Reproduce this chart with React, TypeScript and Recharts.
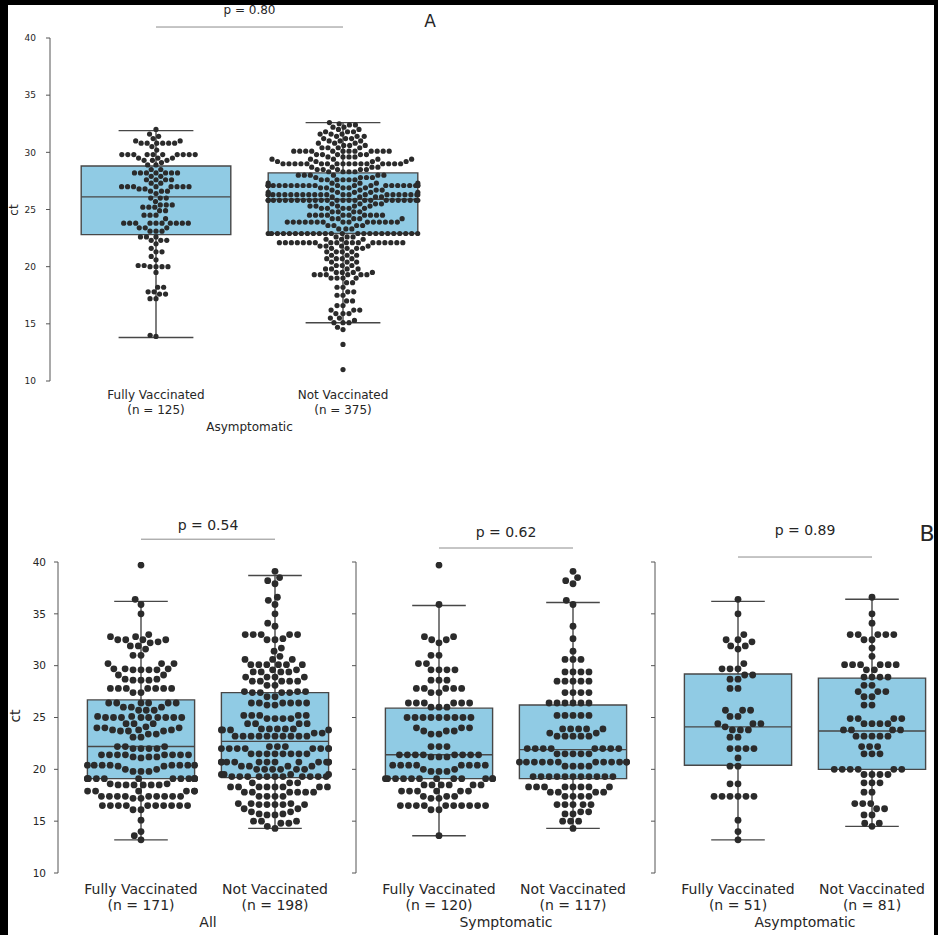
import React from 'react'
import { ScatterChart, Scatter, XAxis, YAxis, ReferenceArea, ReferenceLine } from 'recharts'

type Row = [number, number] // [ct value, number of samples at that value]

const categories = ['Fully Vaccinated', 'Not Vaccinated']
const yTicks = [10, 15, 20, 25, 30, 35, 40]

// Panel A - asymptomatic cohort
const aFullyRows: Row[] = [
  [32.0, 1], [31.6, 1], [31.4, 1], [31.2, 1], [31.0, 2], [30.8, 6], [30.5, 1], [30.2, 1],
  [29.8, 10], [29.5, 3], [29.3, 3], [29.1, 1], [28.9, 2],
  [28.5, 2], [28.2, 7], [27.9, 2], [27.6, 4], [27.3, 2], [27.0, 8], [26.8, 2], [26.6, 3], [26.4, 1],
  [26.0, 3], [25.7, 1], [25.4, 3], [25.2, 3], [24.9, 2], [24.5, 3], [24.2, 1], [23.8, 10], [23.4, 3], [23.1, 3],
  [22.6, 3], [22.3, 3], [22.0, 1], [21.6, 1], [21.3, 2], [20.9, 1], [20.6, 1], [20.1, 2], [20.0, 4], [19.5, 1],
  [18.2, 2], [17.8, 2], [17.6, 2], [17.2, 2], [14.0, 1], [13.9, 1],
]
const aNotRows: Row[] = [
  [32.6, 1], [32.5, 1], [32.4, 2], [32.2, 2], [32.0, 2], [31.8, 3], [31.6, 3], [31.4, 3], [31.2, 3], [31.0, 3],
  [30.8, 3], [30.6, 3], [30.4, 4], [30.1, 12], [29.8, 5], [29.6, 4], [29.4, 5], [29.2, 4], [29.0, 17],
  [28.7, 4], [28.5, 5], [28.3, 4],
  [28.0, 6], [27.8, 4], [27.6, 6], [27.3, 5], [27.1, 22], [26.9, 5], [26.7, 4], [26.5, 5], [26.3, 22], [26.1, 4],
  [25.8, 25], [25.5, 4], [25.3, 5], [25.1, 5], [24.8, 4], [24.5, 10], [24.2, 5], [23.9, 15], [23.6, 4], [23.3, 3],
  [22.9, 24],
  [22.6, 3], [22.4, 3], [22.1, 18], [21.8, 4], [21.6, 4], [21.3, 4], [21.0, 3], [20.7, 4], [20.4, 3], [20.1, 3],
  [19.8, 4], [19.5, 4], [19.3, 6], [19.0, 4], [18.6, 2], [18.2, 2], [17.8, 2], [17.5, 2], [17.0, 2], [16.6, 2],
  [16.2, 3], [15.9, 3], [15.5, 2], [15.3, 1], [15.1, 3], [14.7, 1], [14.5, 1], [13.2, 1], [11.0, 1],
]

// Panel B - symptomatic / asymptomatic (All = both together)
const symFullyRows: Row[] = [
  [39.7, 1], [35.9, 1], [32.8, 2], [32.5, 2], [32.2, 1], [31.0, 2], [30.2, 2], [29.6, 4], [28.6, 3], [27.8, 5],
  [27.4, 2], [26.4, 6], [26.0, 3], [25.0, 9], [24.0, 3], [23.7, 3], [23.4, 2], [22.2, 3], [21.4, 8], [21.2, 3],
  [20.4, 8], [20.0, 2], [19.8, 3], [19.1, 12], [18.5, 6], [17.9, 6], [17.4, 3], [17.2, 2], [16.5, 10], [16.1, 2],
  [13.6, 1],
]
const symNotRows: Row[] = [
  [39.1, 1], [38.5, 1], [38.2, 1], [37.9, 1], [36.3, 1], [35.9, 1], [33.8, 1], [32.6, 1], [31.4, 1], [30.6, 3],
  [29.4, 4], [28.5, 5], [27.4, 4], [26.4, 6], [25.2, 5], [23.9, 5], [23.5, 2], [23.2, 5], [22.0, 8], [21.5, 5],
  [20.7, 12], [20.3, 4], [19.3, 11], [18.3, 8], [17.8, 4], [17.4, 4], [16.6, 5], [15.9, 2], [15.7, 2], [15.0, 3],
  [14.3, 1],
]
const asymFullyRows: Row[] = [
  [36.4, 1], [35.0, 1], [33.0, 1], [32.5, 2], [32.3, 1], [31.9, 2], [31.6, 1], [30.2, 1], [29.7, 3], [29.1, 2],
  [28.7, 2], [27.8, 2], [25.7, 3], [25.1, 2], [24.4, 3], [24.1, 1], [23.8, 3], [23.1, 2], [22.0, 4], [21.1, 1],
  [20.3, 2], [18.6, 2], [17.4, 6], [15.1, 1], [14.0, 1], [13.2, 1],
]
const asymNotRows: Row[] = [
  [36.6, 1], [35.0, 1], [34.1, 1], [33.0, 5], [32.5, 2], [31.7, 1], [30.9, 1], [30.1, 6], [29.6, 2], [28.9, 4],
  [28.1, 2], [27.5, 3], [27.0, 2], [26.2, 2], [24.9, 4], [24.4, 4], [23.8, 4], [23.2, 5], [22.2, 3], [21.5, 3],
  [20.0, 6], [19.5, 4], [18.7, 3], [17.8, 2], [16.7, 3], [16.2, 2], [15.6, 2], [14.8, 2], [14.5, 1],
]

// box stats: [low whisker, q1, median, q3, high whisker]
const aBoxes = [[13.8, 22.8, 26.1, 28.8, 31.9], [15.1, 22.9, 25.9, 28.2, 32.6]]
const allBoxes = [[13.2, 19.1, 22.2, 26.7, 36.2], [14.3, 19.2, 22.7, 27.4, 38.7]]
const symBoxes = [[13.6, 19.1, 21.4, 25.9, 35.8], [14.3, 19.1, 21.9, 26.2, 36.1]]
const asymBoxes = [[13.2, 20.4, 24.1, 29.2, 36.2], [14.5, 20.0, 23.7, 28.8, 36.4]]

const expand = (rows: Row[]) => rows.flatMap(([v, n]) => Array(n).fill(v) as number[])

const BOX = '#90cbe4'
const EDGE = '#474747'
const DOT = '#2b2b2b'
const TXT = '#262626'
const FONT = '"DejaVu Sans", sans-serif'

// seaborn-style beeswarm, done in pixels; returns horizontal offsets (px)
function swarmOffsets(values: number[], pxPerValue: number, r: number, halfWidth: number) {
  const order = values.map((_, i) => i).sort((a, b) => values[a] - values[b])
  const placed: { x: number; y: number }[] = []
  const out: number[] = new Array(values.length).fill(0)
  const d = 2 * r
  for (const i of order) {
    const y = values[i] * pxPerValue
    const near: { x: number; y: number }[] = []
    for (let k = placed.length - 1; k >= 0; k--) {
      if (y - placed[k].y < d) near.push(placed[k])
      else break
    }
    const cands: number[] = [0]
    let leftFirst = true
    for (const n of near) {
      const dy = y - n.y
      const dx = Math.sqrt(Math.max(d * d - dy * dy, 0)) * 1.05
      if (leftFirst) cands.push(n.x - dx, n.x + dx)
      else cands.push(n.x + dx, n.x - dx)
      leftFirst = !leftFirst
    }
    const ranked = cands
      .map((c, k) => ({ c, k }))
      .sort((a, b) => Math.abs(a.c) - Math.abs(b.c) || a.k - b.k)
    let x = 0
    for (const { c } of ranked) {
      if (near.every((n) => (n.x - c) ** 2 + (n.y - y) ** 2 >= d * d - 1e-6)) {
        x = c
        break
      }
    }
    placed.push({ x, y })
    out[i] = Math.max(-halfWidth, Math.min(halfWidth, x))
  }
  return out
}

interface PanelProps {
  groups: number[][]
  boxes: number[][]
  xLabel: string
  pText: string
  pLevel: number
  pOffset: number
  spineX: number
  top: number
  marginTop: number
  plotH: number
  axisH: number
  unit: number
  gap: number
  tickFont: number
  catFont: number
  line1: number
  line2: number
  labelOffset: number
  tickMargin: number
  dotR: number
  hitR: number
  tickLabels: boolean
}

function SwarmBoxPanel(p: PanelProps) {
  const yAxisW = 50
  const plotW = p.gap + 2 * p.unit
  const xMin = -0.5 - p.gap / p.unit
  const pxPerValue = p.plotH / 30

  const series = p.groups.map((vals, i) => {
    const offs = swarmOffsets(vals, pxPerValue, p.hitR, 0.4 * p.unit)
    return vals.map((v, k) => ({ x: i + offs[k] / p.unit, y: v }))
  })

  const renderTick = (t: any) => {
    const i = t.payload.value as number
    return (
      <g>
        <text x={t.x} y={t.y + p.line1} textAnchor="middle" dominantBaseline="central" fontSize={p.catFont} fill={TXT} fontFamily={FONT}>
          {categories[i]}
        </text>
        <text x={t.x} y={t.y + p.line2} textAnchor="middle" dominantBaseline="central" fontSize={p.catFont} fill={TXT} fontFamily={FONT}>
          {`(n = ${p.groups[i].length})`}
        </text>
      </g>
    )
  }

  // shared y axis in panel B: keep the tick marks, drop the numbers
  const yTick = p.tickLabels ? { fontSize: p.tickFont, fill: TXT, fontFamily: FONT } : () => <g />

  return (
    <div style={{ position: 'absolute', left: p.spineX - yAxisW, top: p.top }}>
      <ScatterChart
        width={yAxisW + plotW}
        height={p.marginTop + p.plotH + p.axisH}
        margin={{ top: p.marginTop, right: 0, bottom: 0, left: 0 }}
      >
        <XAxis
          type="number"
          dataKey="x"
          domain={[xMin, 1.5]}
          allowDataOverflow
          ticks={[0, 1]}
          interval={0}
          axisLine={false}
          tickLine={false}
          tickSize={0}
          tickMargin={0}
          height={p.axisH}
          tick={renderTick}
          label={{
            value: p.xLabel,
            position: 'insideBottom',
            offset: p.labelOffset,
            dx: p.gap / 2,
            fontSize: p.catFont,
            fill: TXT,
            fontFamily: FONT,
          }}
        />
        <YAxis
          type="number"
          dataKey="y"
          domain={[10, 40]}
          allowDataOverflow
          ticks={yTicks}
          interval={0}
          width={yAxisW}
          stroke="#555"
          tickLine={{ stroke: '#555' }}
          tickSize={4}
          tickMargin={p.tickMargin}
          tick={yTick}
        />
        {p.boxes.map(([lo, q1, med, q3, hi], i) => (
          <ReferenceArea
            key={`box-${i}`}
            x1={i - 0.4}
            x2={i + 0.4}
            y1={q1}
            y2={q3}
            fill={BOX}
            fillOpacity={1}
            stroke={EDGE}
            strokeWidth={1.4}
          />
        ))}
        {p.boxes.flatMap(([lo, q1, med, q3, hi], i) => [
          <ReferenceLine key={`med-${i}`} segment={[{ x: i - 0.4, y: med }, { x: i + 0.4, y: med }]} stroke={EDGE} strokeWidth={1.4} />,
          <ReferenceLine key={`wu-${i}`} segment={[{ x: i, y: q3 }, { x: i, y: hi }]} stroke={EDGE} strokeWidth={1.4} />,
          <ReferenceLine key={`wl-${i}`} segment={[{ x: i, y: lo }, { x: i, y: q1 }]} stroke={EDGE} strokeWidth={1.4} />,
          <ReferenceLine key={`cu-${i}`} segment={[{ x: i - 0.2, y: hi }, { x: i + 0.2, y: hi }]} stroke={EDGE} strokeWidth={1.4} />,
          <ReferenceLine key={`cl-${i}`} segment={[{ x: i - 0.2, y: lo }, { x: i + 0.2, y: lo }]} stroke={EDGE} strokeWidth={1.4} />,
        ])}
        <ReferenceLine
          segment={[{ x: 0, y: p.pLevel }, { x: 1, y: p.pLevel }]}
          ifOverflow="visible"
          stroke="#8c8c8c"
          strokeWidth={1}
          label={{ value: p.pText, position: 'top', offset: p.pOffset, fontSize: p.catFont, fill: TXT, fontFamily: FONT }}
        />
        {series.map((data, i) => (
          <Scatter
            key={`swarm-${i}`}
            data={data}
            isAnimationActive={false}
            shape={(s: any) => <circle cx={s.cx} cy={s.cy} r={p.dotR} fill={DOT} />}
          />
        ))}
      </ScatterChart>
    </div>
  )
}

export default function App() {
  const aFully = expand(aFullyRows)
  const aNot = expand(aNotRows)
  const symFully = expand(symFullyRows)
  const symNot = expand(symNotRows)
  const asymFully = expand(asymFullyRows)
  const asymNot = expand(asymNotRows)

  const bCommon = {
    top: 480,
    marginTop: 82,
    plotH: 311,
    axisH: 62,
    unit: 134,
    gap: 16,
    tickFont: 10.5,
    catFont: 14,
    line1: 16,
    line2: 32,
    labelOffset: 8,
    tickMargin: 8,
    dotR: 3.4,
    hitR: 3.8,
  }

  return (
    <div
      style={{
        position: 'absolute',
        left: 0,
        top: 0,
        width: 938,
        height: 935,
        background: '#ffffff',
        overflow: 'hidden',
        fontFamily: FONT,
      }}
    >
      <SwarmBoxPanel
        groups={[aFully, aNot]}
        boxes={aBoxes}
        xLabel="Asymptomatic"
        pText="p = 0.80"
        pLevel={40.96}
        pOffset={13}
        spineX={50}
        top={0}
        marginTop={38}
        plotH={343}
        axisH={60}
        unit={187}
        gap={12.5}
        tickFont={9}
        catFont={12}
        line1={14}
        line2={29}
        labelOffset={10}
        tickMargin={10}
        dotR={2.6}
        hitR={2.85}
        tickLabels
      />
      <SwarmBoxPanel
        {...bCommon}
        groups={[[...symFully, ...asymFully], [...symNot, ...asymNot]]}
        boxes={allBoxes}
        xLabel="All"
        pText="p = 0.54"
        pLevel={42.2}
        pOffset={9}
        spineX={57.5}
        tickLabels
      />
      <SwarmBoxPanel
        {...bCommon}
        groups={[symFully, symNot]}
        boxes={symBoxes}
        xLabel="Symptomatic"
        pText="p = 0.62"
        pLevel={41.35}
        pOffset={11}
        spineX={356}
        tickLabels={false}
      />
      <SwarmBoxPanel
        {...bCommon}
        groups={[asymFully, asymNot]}
        boxes={asymBoxes}
        xLabel="Asymptomatic"
        pText="p = 0.89"
        pLevel={40.48}
        pOffset={22}
        spineX={655}
        tickLabels={false}
      />
      <svg width={938} height={935} style={{ position: 'absolute', left: 0, top: 0, pointerEvents: 'none' }}>
        <text x={430} y={21} textAnchor="middle" dominantBaseline="central" fontSize={17} fill={TXT} fontFamily={FONT}>A</text>
        <text x={927} y={533} textAnchor="middle" dominantBaseline="central" fontSize={22} fill={TXT} fontFamily={FONT}>B</text>
        <text transform="translate(14,210) rotate(-90)" textAnchor="middle" dominantBaseline="central" fontSize={12} fill={TXT} fontFamily={FONT}>ct</text>
        <text transform="translate(15,716) rotate(-90)" textAnchor="middle" dominantBaseline="central" fontSize={14} fill={TXT} fontFamily={FONT}>ct</text>
      </svg>
      <div style={{ position: 'absolute', left: 0, top: 0, width: 938, height: 5, background: '#000' }} />
      <div style={{ position: 'absolute', left: 0, top: 0, width: 8, height: 935, background: '#000' }} />
      <div style={{ position: 'absolute', left: 934, top: 0, width: 4, height: 935, background: '#000' }} />
    </div>
  )
}
